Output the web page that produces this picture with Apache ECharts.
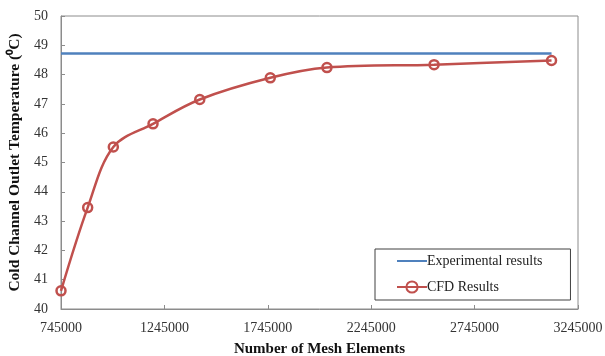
<!DOCTYPE html>
<html>
<head>
<meta charset="utf-8">
<script src="https://cdn.jsdelivr.net/npm/echarts@6/dist/echarts.min.js"></script>
<style>html,body{margin:0;padding:0;background:#fff}#c{width:605px;height:356px}</style>
</head>
<body>
<div id="c"></div>
<script>
const meshElements = [745000, 874000, 998000, 1190000, 1416000, 1757000, 2031000, 2549000, 3117000];
const cfdTemps = [40.62, 43.46, 45.53, 46.32, 47.15, 47.89, 48.24, 48.34, 48.48];
const expMesh = [745000, 3117000];
const expTemps = [48.72, 48.72];
const seriesNames = ['Experimental results', 'CFD Results'];
const xTitle = 'Number of Mesh Elements';
const yTitle = 'Cold Channel Outlet Temperature (\u2070C)';

const font = 'Liberation Serif, Times New Roman, serif';
const chart = echarts.init(document.getElementById('c'), null, {renderer: 'canvas'});
chart.setOption({
  animation: false,
  textStyle: {fontFamily: font},
  grid: {left: 61, right: 27, top: 16, bottom: 47, containLabel: false, outerBoundsMode: 'none',
         show: true, borderColor: '#8c8c8c', borderWidth: 1},
  legend: {
    orient: 'vertical', left: 375, top: 249,
    padding: [5, 28, 6, 21], itemGap: 12, itemWidth: 30, itemHeight: 14,
    borderColor: '#404040', borderWidth: 1, backgroundColor: '#fff',
    textStyle: {fontFamily: font, fontSize: 14, color: '#222', padding: [0,0,0,-5]},
    data: [
      {name: seriesNames[0], itemStyle: {opacity: 0}},
      {name: seriesNames[1]}
    ]
  },
  xAxis: {
    type: 'value', min: 745000, max: 3245000, interval: 500000,
    name: xTitle, nameLocation: 'middle', nameGap: 33,
    nameTextStyle: {fontFamily: font, fontWeight: 'bold', fontSize: 15, color: '#111'},
    axisLine: {lineStyle: {color: '#8c8c8c'}},
    axisTick: {show: true, inside: true, length: 4, lineStyle: {color: '#8c8c8c'}},
    axisLabel: {fontFamily: font, fontSize: 14, color: '#333', margin: 12, formatter: v => String(v)},
    splitLine: {show: false}
  },
  yAxis: {
    type: 'value', min: 40, max: 50, interval: 1,
    name: yTitle, nameLocation: 'middle', nameGap: 31, nameRotate: 90,
    nameTextStyle: {fontFamily: font, fontWeight: 'bold', fontSize: 15.5, color: '#111'},
    axisLine: {show: true, lineStyle: {color: '#8c8c8c'}},
    axisTick: {show: true, inside: true, length: 4, lineStyle: {color: '#8c8c8c'}},
    axisLabel: {fontFamily: font, fontSize: 14, color: '#333', margin: 13},
    splitLine: {show: false}
  },
  series: [
    {
      name: seriesNames[0], type: 'line', symbol: 'none',
      data: expMesh.map((x, i) => [x, expTemps[i]]),
      lineStyle: {color: '#4F81BD', width: 2.5}, itemStyle: {color: '#4F81BD'}
    },
    {
      name: seriesNames[1], type: 'line', symbol: 'circle', symbolSize: 9, smooth: 0.35,
      data: meshElements.map((x, i) => [x, cfdTemps[i]]),
      lineStyle: {color: '#C0504D', width: 2.5},
      itemStyle: {color: 'rgba(255,255,255,0)', borderColor: '#C0504D', borderWidth: 2.5}
    }
  ]
});
</script>
</body>
</html>
